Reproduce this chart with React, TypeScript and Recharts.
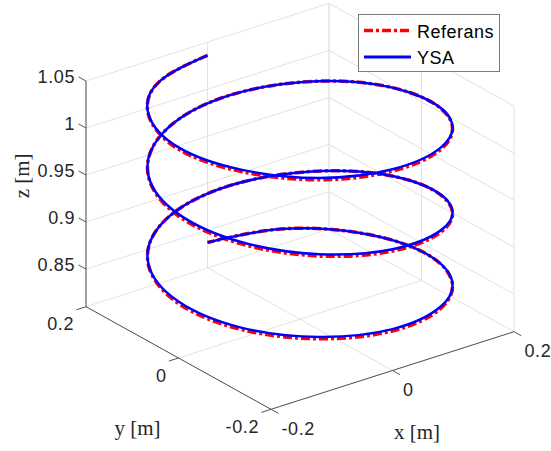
import React from 'react';
import { ComposedChart, Line, Scatter, XAxis, YAxis, Legend } from 'recharts';

const W = 551;
const H = 451;

// axis limits and ticks [m]
const xLim = [-0.2, 0.2];
const yLim = [-0.2, 0.2];
const zLim = [0.81, 1.05];
const xTicks = [-0.2, 0, 0.2];
const yTicks = [-0.2, 0, 0.2];
const zTicks = [0.85, 0.9, 0.95, 1, 1.05];
const axisTitles = ['x [m]', 'y [m]', 'z [m]'];
const seriesNames = ['Referans', 'YSA'];

// helix samples, every 30 deg, starting at the back (top) and winding 3 turns down
const helixX = [
  0, -0.1, -0.173, -0.2, -0.173, -0.1, 0, 0.1, 0.173, 0.2, 0.173, 0.1,
  0, -0.1, -0.173, -0.2, -0.173, -0.1, 0, 0.1, 0.173, 0.2, 0.173, 0.1,
  0, -0.1, -0.173, -0.2, -0.173, -0.1, 0, 0.1, 0.173, 0.2, 0.173, 0.1,
  0,
];
const helixY = [
  0.2, 0.173, 0.1, 0, -0.1, -0.173, -0.2, -0.173, -0.1, 0, 0.1, 0.173,
  0.2, 0.173, 0.1, 0, -0.1, -0.173, -0.2, -0.173, -0.1, 0, 0.1, 0.173,
  0.2, 0.173, 0.1, 0, -0.1, -0.173, -0.2, -0.173, -0.1, 0, 0.1, 0.173,
  0.2,
];
const refZ = [
  1.036, 1.036, 1.035, 1.032, 1.03, 1.026, 1.022, 1.017, 1.011, 1.005, 0.999, 0.992,
  0.985, 0.977, 0.969, 0.961, 0.953, 0.945, 0.937, 0.929, 0.92, 0.912, 0.904, 0.896,
  0.889, 0.882, 0.875, 0.868, 0.862, 0.857, 0.852, 0.848, 0.844, 0.841, 0.839, 0.838,
  0.837,
];
const ysaZ = [
  1.036, 1.036, 1.036, 1.034, 1.032, 1.028, 1.024, 1.019, 1.012, 1.005, 0.999, 0.992,
  0.985, 0.977, 0.97, 0.963, 0.955, 0.947, 0.939, 0.931, 0.921, 0.912, 0.904, 0.896,
  0.889, 0.882, 0.876, 0.87, 0.864, 0.859, 0.854, 0.85, 0.845, 0.841, 0.839, 0.838,
  0.837,
];

// where the 3-D box sits on screen: floor centre + half-edge vectors (px), MATLAB-like view
const VIEW = { u0: 300, v0: 319.2, xu: 121.5, xv: -38.8, yu: -92.5, yv: -51.3, zv: -225.7 };

const norm = (val: number, lim: number[]) => (val - (lim[0] + lim[1]) / 2) / ((lim[1] - lim[0]) / 2);

const project = (x: number, y: number, z: number) => {
  const xn = norm(x, xLim);
  const yn = norm(y, yLim);
  const zn = (z - zLim[0]) / (zLim[1] - zLim[0]);
  return {
    u: VIEW.u0 + VIEW.xu * xn + VIEW.yu * yn,
    v: VIEW.v0 + VIEW.xv * xn + VIEW.yv * yn + VIEW.zv * zn,
  };
};

const seg = (a: number[], b: number[]) => [project(a[0], a[1], a[2]), project(b[0], b[1], b[2])];

// grid on the three back planes
const gridSegs: any[] = [];
xTicks.forEach(x => gridSegs.push(seg([x, yLim[0], zLim[0]], [x, yLim[1], zLim[0]])));
yTicks.forEach(y => gridSegs.push(seg([xLim[0], y, zLim[0]], [xLim[1], y, zLim[0]])));
xTicks.forEach(x => gridSegs.push(seg([x, yLim[1], zLim[0]], [x, yLim[1], zLim[1]])));
zTicks.forEach(z => gridSegs.push(seg([xLim[0], yLim[1], z], [xLim[1], yLim[1], z])));
yTicks.forEach(y => gridSegs.push(seg([xLim[1], y, zLim[0]], [xLim[1], y, zLim[1]])));
zTicks.forEach(z => gridSegs.push(seg([xLim[1], yLim[0], z], [xLim[1], yLim[1], z])));

// axis lines + tick marks
const tk = 0.016; // tick length in data units of the neighbour axis
const axisSegs: any[] = [
  seg([xLim[0], yLim[0], zLim[0]], [xLim[1], yLim[0], zLim[0]]),
  seg([xLim[0], yLim[0], zLim[0]], [xLim[0], yLim[1], zLim[0]]),
  seg([xLim[0], yLim[1], zLim[0]], [xLim[0], yLim[1], zLim[1]]),
];
xTicks.forEach(x => axisSegs.push(seg([x, yLim[0], zLim[0]], [x, yLim[0] - tk, zLim[0]])));
yTicks.forEach(y => axisSegs.push(seg([xLim[0], y, zLim[0]], [xLim[0] - tk, y, zLim[0]])));
zTicks.forEach(z => axisSegs.push(seg([xLim[0], yLim[1], z], [xLim[0], yLim[1] + tk, z])));

const refPts = helixX.map((x, i) => project(x, helixY[i], refZ[i]));
const ysaPts = helixX.map((x, i) => project(x, helixY[i], ysaZ[i]));

const xLabels = xTicks.map(x => ({ ...project(x, yLim[0], zLim[0]), text: String(x) }));
const yLabels = yTicks.map(y => ({ ...project(xLim[0], y, zLim[0]), text: String(y) }));
const zLabels = zTicks.map(z => ({ ...project(xLim[0], yLim[1], z), text: String(z) }));
const titlePts = [
  { ...project(0, yLim[0], zLim[0]), text: axisTitles[0], dx: 24.5, dy: 61, rot: 0 },
  { ...project(xLim[0], 0, zLim[0]), text: axisTitles[1], dx: -41, dy: 70, rot: 0 },
  { ...project(xLim[0], yLim[1], (zLim[0] + zLim[1]) / 2), text: axisTitles[2], dx: -64, dy: -18, rot: -90 },
];

const SANS = '"Liberation Sans", Arial, Helvetica, sans-serif';
const SERIF = '"Liberation Serif", "Times New Roman", serif';
const TXT = '#262626';

const tickText = (dx: number, dy: number, anchor: string) => (p: any) => (
  <text
    x={p.cx + dx}
    y={p.cy + dy}
    textAnchor={anchor}
    dominantBaseline="central"
    fontFamily={SANS}
    fontSize={18}
    letterSpacing={0.6}
    fill={TXT}
  >
    {p.payload.text}
  </text>
);

const titleText = (p: any) => {
  const x = p.cx + p.payload.dx;
  const y = p.cy + p.payload.dy;
  return (
    <text
      x={x}
      y={y}
      textAnchor="middle"
      dominantBaseline="central"
      fontFamily={SERIF}
      fontSize={21}
      fill={TXT}
      transform={p.payload.rot ? `rotate(${p.payload.rot} ${x} ${y})` : undefined}
    >
      {p.payload.text}
    </text>
  );
};

const lineStyle: Record<string, { dash?: string; width: number }> = {
  Referans: { dash: '9 3 3 3', width: 3.5 },
  YSA: { width: 3 },
};

const renderLegend = (props: any) => {
  const items = (props.payload || []).filter((p: any) => seriesNames.includes(p.value));
  return (
    <div style={{ width: 142, height: 58, border: '1px solid #7a7a7a', background: '#fff', boxSizing: 'border-box' }}>
      <svg width={140} height={56} style={{ display: 'block' }}>
        {items.map((p: any, i: number) => {
          const y = 15.5 + i * 26.5;
          const st = lineStyle[p.value];
          return (
            <g key={p.value}>
              <line x1={5} x2={52} y1={y} y2={y} stroke={p.color} strokeWidth={st.width} strokeDasharray={st.dash} />
              <text
                x={58}
                y={y + 1}
                dominantBaseline="central"
                fontFamily={SANS}
                fontSize={18}
                letterSpacing={0.5}
                fill="#000"
              >
                {p.value}
              </text>
            </g>
          );
        })}
      </svg>
    </div>
  );
};

export default function App() {
  return (
    <div style={{ position: 'absolute', left: 0, top: 0, width: W, height: H, background: '#fff' }}>
      <ComposedChart width={W} height={H} margin={{ top: 0, right: 0, bottom: 0, left: 0 }}>
        <XAxis type="number" dataKey="u" domain={[0, W]} hide allowDataOverflow />
        <YAxis type="number" domain={[0, H]} reversed hide allowDataOverflow />
        {gridSegs.map((d, i) => (
          <Line
            key={`g${i}`}
            data={d}
            dataKey="v"
            type="linear"
            stroke="#e2e2e2"
            strokeWidth={1}
            dot={false}
            activeDot={false}
            legendType="none"
            isAnimationActive={false}
          />
        ))}
        {axisSegs.map((d, i) => (
          <Line
            key={`a${i}`}
            data={d}
            dataKey="v"
            type="linear"
            stroke="#555555"
            strokeWidth={1}
            dot={false}
            activeDot={false}
            legendType="none"
            isAnimationActive={false}
          />
        ))}
        <Line
          data={refPts}
          dataKey="v"
          name={seriesNames[0]}
          type="natural"
          stroke="#ff0000"
          strokeWidth={lineStyle.Referans.width}
          strokeDasharray={lineStyle.Referans.dash}
          dot={false}
          activeDot={false}
          isAnimationActive={false}
        />
        <Line
          data={ysaPts}
          dataKey="v"
          name={seriesNames[1]}
          type="natural"
          stroke="#0000ff"
          strokeWidth={2.5}
          dot={false}
          activeDot={false}
          isAnimationActive={false}
        />
        <Scatter data={xLabels} dataKey="v" shape={tickText(10.5, 19.3, 'start')} legendType="none" isAnimationActive={false} />
        <Scatter data={yLabels} dataKey="v" shape={tickText(-12, 17.5, 'end')} legendType="none" isAnimationActive={false} />
        <Scatter data={zLabels} dataKey="v" shape={tickText(-11, -4.5, 'end')} legendType="none" isAnimationActive={false} />
        <Scatter data={titlePts} dataKey="v" shape={titleText} legendType="none" isAnimationActive={false} />
        <Legend
          content={renderLegend}
          layout="horizontal"
          align="center"
          verticalAlign="middle"
          wrapperStyle={{ left: 358, top: 14, width: 142, height: 58 }}
        />
      </ComposedChart>
    </div>
  );
}
